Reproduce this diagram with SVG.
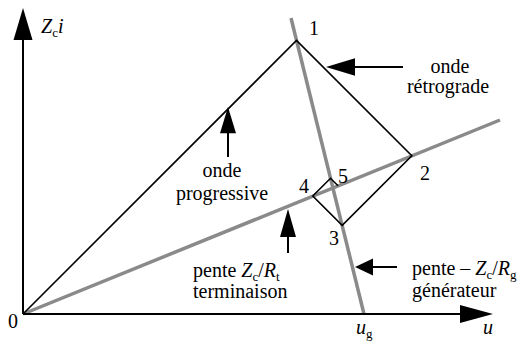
<svg xmlns="http://www.w3.org/2000/svg" width="523" height="342" viewBox="0 0 523 342" font-family="Liberation Serif, DejaVu Serif, serif">
<style>
text{font-size:20px;fill:#000}
.it{font-style:italic}
.sub{font-size:13px}
.ax{stroke:#000;stroke-width:2;fill:none}
.gray{stroke:#8a8a8a;stroke-width:3.5;fill:none}
.wave{stroke:#000;stroke-width:1.6;fill:none;stroke-linejoin:miter}
.head{fill:#000;stroke:none}
.shaft{stroke:#000;stroke-width:2;fill:none}
</style>
<rect width="523" height="342" fill="#fff"/>
<g id="connectors">
  <line class="gray" x1="23" y1="314" x2="500" y2="120"/>
  <line class="gray" x1="291" y1="18" x2="364" y2="314"/>
  <polyline class="wave" points="23,314 296.5,40.5 411.8,155.8 342.2,225.4 312.8,196 330.5,178.3 338,185.8"/>
</g>
<g id="axes">
  <line class="ax" x1="23" y1="314" x2="23" y2="36"/>
  <polygon class="head" points="23,8 32.5,40 13.5,40"/>
  <line class="ax" x1="23" y1="314" x2="464" y2="314"/>
  <polygon class="head" points="493,314 460,305 460,323"/>
  <text x="41" y="33"><tspan class="it">Z</tspan><tspan class="sub" dy="4">c</tspan><tspan class="it" dy="-4">i</tspan></text>
  <text x="8" y="328">0</text>
  <text x="356" y="334"><tspan class="it">u</tspan><tspan class="sub" dy="4">g</tspan></text>
  <text x="483" y="334" class="it">u</text>
</g>
<g id="points">
  <text x="309" y="35">1</text>
  <text x="420" y="180">2</text>
  <text x="329" y="245">3</text>
  <text x="299" y="193">4</text>
  <text x="338" y="183">5</text>
</g>
<g id="retrograde">
  <line class="shaft" x1="403" y1="67" x2="350" y2="67"/>
  <polygon class="head" points="326,67 355,58.3 355,75.7"/>
  <text x="450" y="73" text-anchor="middle">onde</text>
  <text x="448" y="93" text-anchor="middle">rétrograde</text>
</g>
<g id="progressive">
  <line class="shaft" x1="228" y1="157" x2="228" y2="128"/>
  <polygon class="head" points="228,107 236,133.3 220,133.3"/>
  <text x="222" y="177" text-anchor="middle">onde</text>
  <text x="222" y="200" text-anchor="middle">progressive</text>
</g>
<g id="terminaison">
  <line class="shaft" x1="288" y1="253" x2="288" y2="232"/>
  <polygon class="head" points="288,209 296,237 280,237"/>
  <text x="193" y="277">pente <tspan class="it">Z</tspan><tspan class="sub" dy="4">c</tspan><tspan dy="-4">/</tspan><tspan class="it">R</tspan><tspan class="sub" dy="4">t</tspan></text>
  <text x="193" y="298">terminaison</text>
</g>
<g id="generateur">
  <line class="shaft" x1="397" y1="267" x2="368" y2="267"/>
  <polygon class="head" points="355,267 373,258.5 373,275.5"/>
  <text x="412" y="275">pente – <tspan class="it">Z</tspan><tspan class="sub" dy="4">c</tspan><tspan dy="-4">/</tspan><tspan class="it">R</tspan><tspan class="sub" dy="4">g</tspan></text>
  <text x="412" y="297">générateur</text>
</g>
</svg>
